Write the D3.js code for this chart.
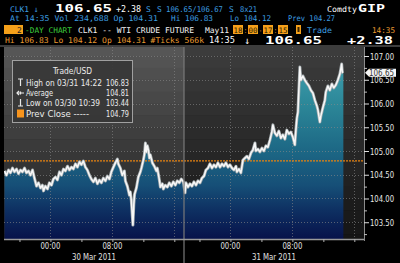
<!DOCTYPE html>
<html>
<head>
<meta charset="utf-8">
<script src="https://cdn.jsdelivr.net/npm/d3@7"></script>
<style>
  html, body { margin: 0; padding: 0; background: #000; }
  svg { display: block; }
  text { font-family: "DejaVu Sans Mono", monospace; }
  .narrow { font-family: "DejaVu Sans Condensed", "Liberation Sans Narrow", "DejaVu Sans", sans-serif; }
</style>
</head>
<body>
<div id="chart"></div>
<script>
// quote header values
const ticker = "CLK1";
const last = 106.65, change = 2.38, bid = 106.65, ask = 106.67, bidAsk = "8x21";
const lastTime = "14:35", volume = "234,688", open = 104.31, hi = 106.83, lo = 104.12, prev = 104.27, tickCount = "566k";
const prevClose = 104.79, average = 104.81;
const highInfo = ["03/31 14:22", 106.83], lowInfo = ["03/30 10:39", 103.44];

// session 18:00 -> 17:15 (1395 min); times are minutes after the 18:00 open
const sessionLen = 1395;
const sessionDates = ["30 Mar 2011", "31 Mar 2011"];
const day1Minutes = [4, 19, 35, 50, 66, 81, 97, 112, 128, 143,
  159, 174, 190, 205, 221, 236, 252, 267, 283, 298,
  306, 321, 337, 352, 368, 383, 399, 414, 430, 445,
  461, 476, 492, 507, 523, 538, 554, 569, 585, 600,
  615, 631, 646, 662, 677, 693, 708, 724, 739, 755,
  770, 786, 801, 817, 832, 848, 863, 879, 886, 902,
  917, 933, 941, 956, 972, 979, 987, 999, 1006, 1012,
  1026, 1041, 1057, 1065, 1080, 1088, 1096, 1103, 1111, 1119,
  1127, 1134, 1150, 1165, 1181, 1188, 1196, 1204, 1212, 1227,
  1235, 1250, 1266, 1281, 1297, 1312, 1328, 1343, 1359, 1374,
  1390];
const day1Prices = [104.58, 104.49, 104.60, 104.54, 104.64, 104.56, 104.62, 104.52, 104.60, 104.56,
  104.64, 104.54, 104.58, 104.49, 104.60, 104.43, 104.26, 104.33, 104.22, 104.28,
  104.16, 104.26, 104.20, 104.33, 104.28, 104.41, 104.45, 104.39, 104.56, 104.49,
  104.62, 104.58, 104.68, 104.60, 104.66, 104.62, 104.73, 104.66, 104.77, 104.71,
  104.79, 104.66, 104.60, 104.49, 104.41, 104.35, 104.43, 104.31, 104.39, 104.33,
  104.43, 104.37, 104.47, 104.41, 104.56, 104.66, 104.75, 104.83, 104.73, 104.64,
  104.49, 104.58, 104.37, 104.26, 104.07, 104.14, 103.95, 103.44, 103.88, 104.09,
  104.22, 104.45, 104.56, 104.64, 104.81, 104.92, 105.17, 104.98, 105.11, 105.02,
  104.85, 104.92, 104.75, 104.68, 104.58, 104.64, 104.52, 104.39, 104.24, 104.31,
  104.20, 104.28, 104.24, 104.33, 104.26, 104.35, 104.28, 104.37, 104.33, 104.41,
  104.35];
const day2Minutes = [0, 8, 15, 31, 46, 62, 77, 93, 108, 124,
  139, 155, 170, 186, 201, 217, 232, 248, 263, 279,
  294, 310, 325, 341, 356, 372, 387, 403, 410, 426,
  441, 457, 472, 488, 503, 519, 534, 550, 557, 573,
  588, 604, 619, 635, 650, 666, 681, 689, 704, 720,
  735, 751, 766, 782, 797, 813, 828, 844, 859, 867,
  875, 883, 890, 898, 906, 921, 937, 952, 968, 983,
  999, 1014, 1030, 1038, 1053, 1061, 1076, 1092, 1099, 1115,
  1130, 1146, 1161, 1177, 1192, 1208, 1222, 1227, 1235];
const day2Prices = [104.26, 104.12, 104.33, 104.24, 104.31, 104.26, 104.35, 104.28, 104.37, 104.33,
  104.43, 104.47, 104.60, 104.64, 104.73, 104.64, 104.71, 104.66, 104.75, 104.66,
  104.73, 104.68, 104.75, 104.66, 104.71, 104.64, 104.60, 104.68, 104.56, 104.62,
  104.54, 104.81, 104.85, 104.89, 104.83, 104.96, 105.02, 105.17, 105.00, 105.04,
  104.98, 105.06, 105.00, 105.11, 105.08, 105.23, 105.40, 105.55, 105.38, 105.32,
  105.42, 105.27, 105.34, 105.25, 105.44, 105.36, 105.40, 105.29, 105.13, 105.44,
  105.69, 105.82, 106.28, 106.77, 106.49, 106.58, 106.49, 106.43, 106.37, 106.28,
  106.22, 106.07, 105.95, 105.86, 105.61, 105.74, 105.91, 106.07, 106.24, 106.37,
  106.28, 106.41, 106.33, 106.39, 106.49, 106.62, 106.83, 106.66, 106.65];

const priceTicks = [103.5, 104.0, 104.5, 105.0, 105.5, 106.0, 106.5, 107.0];
const minorTicks = [103.25, 103.75, 104.25, 104.75, 105.25, 105.75, 106.25, 106.75];
const tickHours = [20, 0, 4, 8, 12, 16];
const gridHours = [0, 8, 16];
const labelHours = ["00:00", "08:00"];

const W = 400, H = 263;
const plot = { left: 4, right: 364, top: 47, bottom: 239 };

const svg = d3.select("#chart").append("svg").attr("width", W).attr("height", H);
svg.append("rect").attr("width", W).attr("height", H).attr("fill", "#000");

const x = d3.scaleLinear().domain([0, 2 * sessionLen]).range([plot.left, plot.right]);
const y = d3.scaleLinear().domain([103.147, 107.19]).range([plot.bottom, plot.top]);
const hourToMin = h => ((h - 18 + 24) % 24) * 60;

const series = day1Minutes.map((m, i) => ({ t: m, v: day1Prices[i] }))
  .concat(day2Minutes.map((m, i) => ({ t: sessionLen + m, v: day2Prices[i] })));

function put(g, px, py, str, color, size, opts = {}) {
  const t = g.append("text").attr("x", px).attr("y", py).text(str)
    .attr("fill", color).attr("font-size", size);
  if (opts.w) t.attr("textLength", opts.w).attr("lengthAdjust", "spacingAndGlyphs");
  if (opts.bold) t.attr("font-weight", "bold");
  if (opts.anchor) t.attr("text-anchor", opts.anchor);
  if (opts.cls) t.attr("class", opts.cls);
  return t;
}

// ---------- header ----------
const hd = svg.append("g");
const blue = "#3d9fe0", orange = "#e89a30";
put(hd, 10, 11.5, ticker + " \u2193", blue, 7.9);
put(hd, 55, 11.5, last.toFixed(2), "#fff", 11, { w: 57, bold: true });
put(hd, 116, 11.5, "+" + change.toFixed(2), "#fff", 9, { w: 25 });
put(hd, 146, 11.5, "S", blue, 7.9);
put(hd, 157, 11.5, "S", blue, 7.9);
put(hd, 166, 11.5, bid.toFixed(2) + "/" + ask.toFixed(2), blue, 7.9, { w: 57 });
put(hd, 229, 11.5, "S", blue, 7.9);
put(hd, 240, 11.5, bidAsk, blue, 7.9, { w: 17 });
put(hd, 327, 11.5, "Comdty", "#fff", 7.9, { w: 30 });
put(hd, 358, 12, "GIP", "#fff", 11, { w: 27, bold: true });

put(hd, 10, 21, `At ${lastTime} Vol ${volume} Op ${open.toFixed(2)}`, blue, 7.9, { w: 148 });
put(hd, 171, 21, `Hi ${hi.toFixed(2)}`, blue, 7.9, { w: 42 });
put(hd, 230, 21, `Lo ${lo.toFixed(2)}`, blue, 7.9, { w: 41 });
put(hd, 288, 21, `Prev ${prev.toFixed(2)}`, blue, 7.9, { w: 47 });

hd.append("rect").attr("x", 4).attr("y", 25).attr("width", 19).attr("height", 9).attr("fill", "#f5a01a");
put(hd, 17, 32.5, "2", "#222", 7.9);
put(hd, 25, 32.5, "-DAY CHART", "#3cc83c", 7.9, { w: 47 });
put(hd, 78, 32.5, ticker + " -- WTI CRUDE FUTURE", "#f2f2f2", 7.9, { w: 116 });
put(hd, 205, 32.5, "May11", "#f2f2f2", 7.9, { w: 24 });
[["18", 233], ["00", 248], ["17", 263], ["15", 278]].forEach(([s, bx]) => {
  hd.append("rect").attr("x", bx).attr("y", 25).attr("width", 10).attr("height", 9).attr("fill", "#f5a01a");
  put(hd, bx + 0.5, 32.5, s, "#2a1a00", 7.5, { w: 9 });
});
[[":", 245.5], ["-", 260.5], [":", 275.5]].forEach(([s, sx]) =>
  put(hd, sx, 32.5, s, orange, 7.5, { w: 3, anchor: "middle" }));
hd.append("rect").attr("x", 296).attr("y", 25).attr("width", 5).attr("height", 9).attr("fill", "#f5a01a");
hd.append("rect").attr("x", 297.5).attr("y", 27).attr("width", 2).attr("height", 5).attr("fill", "#3a2400");
put(hd, 307, 32.5, "Trade", blue, 7.9, { w: 25 });
put(hd, 372, 32.5, lastTime, orange, 7.9, { w: 23 });

put(hd, 5, 43, `Hi ${hi.toFixed(2)} Lo ${lo.toFixed(2)} Op ${open.toFixed(2)} #Ticks ${tickCount}`, orange, 7.9, { w: 199 });
put(hd, 209, 43, lastTime, "#fff", 8.5, { w: 26 });
put(hd, 244, 43.5, "\u2193", "#fff", 10);
put(hd, 265, 44, last.toFixed(2), "#fff", 11, { w: 57, bold: true });
put(hd, 347, 44, "+" + change.toFixed(2), "#fff", 11, { w: 46, bold: true });

svg.append("rect").attr("x", 0).attr("y", 45).attr("width", W).attr("height", 2).attr("fill", "#3c3c3c");

// ---------- plot background ----------
svg.append("clipPath").attr("id", "clip").append("rect")
  .attr("x", plot.left).attr("y", plot.top)
  .attr("width", plot.right - plot.left).attr("height", plot.bottom - plot.top);
const pg = svg.append("g").attr("clip-path", "url(#clip)");

const bandTops = d3.range(107.25, 103.0, -0.25);
[["#565656", "#1e1e1e"], ["#3c3c3c", "#151515"]].forEach(([c0, c1], s) => {
  const col = d3.interpolateRgb(c0, c1);
  pg.selectAll(null).data(bandTops).join("rect")
    .attr("x", x(s * sessionLen)).attr("width", x(sessionLen) - x(0))
    .attr("y", d => y(d)).attr("height", d => y(d - 0.25) - y(d) + 0.5)
    .attr("fill", (d, i) => col(i / (bandTops.length - 1)));
});

// area gradient
const grad = svg.append("defs").append("linearGradient").attr("id", "fillGrad")
  .attr("gradientUnits", "userSpaceOnUse")
  .attr("x1", 0).attr("x2", 0).attr("y1", plot.top).attr("y2", plot.bottom);
[[0, "#46a8b6"], [0.3, "#2c8798"], [0.55, "#1c6684"], [0.72, "#164f77"], [0.85, "#0e3062"], [1, "#07124a"]]
  .forEach(([o, c]) => grad.append("stop").attr("offset", o).attr("stop-color", c));

pg.append("path").datum(series)
  .attr("fill", "url(#fillGrad)")
  .attr("d", d3.area().x(d => x(d.t)).y0(plot.bottom).y1(d => y(d.v)));

// grid
pg.selectAll(null).data(priceTicks).join("line")
  .attr("x1", plot.left).attr("x2", plot.right)
  .attr("y1", d => Math.round(y(d)) + 0.5).attr("y2", d => Math.round(y(d)) + 0.5)
  .attr("stroke", "#8a8a8a").attr("stroke-opacity", 0.6).attr("stroke-dasharray", "1,2");
const gridMins = [0, 1].flatMap(s => gridHours.map(h => s * sessionLen + hourToMin(h)));
pg.selectAll(null).data(gridMins).join("line")
  .attr("x1", d => Math.round(x(d)) + 0.5).attr("x2", d => Math.round(x(d)) + 0.5)
  .attr("y1", plot.top).attr("y2", plot.bottom)
  .attr("stroke", "#8a8a8a").attr("stroke-opacity", 0.6).attr("stroke-dasharray", "1,2");

// session divider
svg.append("line").attr("x1", x(sessionLen)).attr("x2", x(sessionLen))
  .attr("y1", plot.top).attr("y2", H)
  .attr("stroke", "#7a7a7a").attr("stroke-width", 1.2);

// prev close
pg.append("line").attr("x1", plot.left).attr("x2", plot.right)
  .attr("y1", y(prevClose)).attr("y2", y(prevClose))
  .attr("stroke", "#e8820f").attr("stroke-width", 1.2).attr("stroke-dasharray", "2,1");

// price line
const line = d3.line().x(d => x(d.t)).y(d => y(d.v));
pg.append("path").datum(series).attr("fill", "none")
  .attr("stroke", "#a3abae").attr("stroke-width", 3).attr("stroke-linejoin", "round").attr("d", line);
pg.append("path").datum(series).attr("fill", "none")
  .attr("stroke", "#f8f8f8").attr("stroke-width", 1.5).attr("stroke-linejoin", "round").attr("d", line);

// ---------- axes ----------
const yAxis = svg.append("g").attr("transform", `translate(${plot.right},0)`)
  .call(d3.axisRight(y).tickValues(priceTicks).tickSize(5).tickPadding(1).tickFormat(d3.format(".2f")));
yAxis.select(".domain").attr("stroke", "#8c8c8c").attr("d", `M0.5,${plot.top}V${plot.bottom + 2}`);
yAxis.selectAll(".tick line").attr("stroke", "#e0e0e0");
yAxis.selectAll(".tick text").attr("class", "narrow").attr("fill", "#e6e6e6")
  .attr("font-size", 9.5).attr("textLength", 24).attr("lengthAdjust", "spacingAndGlyphs");
const yMinor = svg.append("g").attr("transform", `translate(${plot.right},0)`)
  .call(d3.axisRight(y).tickValues(minorTicks).tickSize(3).tickFormat(""));
yMinor.select(".domain").remove();
yMinor.selectAll(".tick line").attr("stroke", "#bdbdbd");

const tickMins = [0, 1].flatMap(s => tickHours.map(h => s * sessionLen + hourToMin(h)));
const xAxis = svg.append("g").attr("transform", `translate(0,${plot.bottom})`)
  .call(d3.axisBottom(x).tickValues(tickMins).tickSize(3).tickFormat(""));
xAxis.select(".domain").attr("stroke", "#9a9a9a").attr("stroke-width", 1.5)
  .attr("d", `M${plot.left},0.5H${plot.right}`);
xAxis.selectAll(".tick line").attr("stroke", "#b0b0b0");

const xl = svg.append("g");
[0, 1].forEach(s => {
  labelHours.forEach(lbl => {
    const m = s * sessionLen + hourToMin(+lbl.slice(0, 2));
    put(xl, x(m), 248.5, lbl, "#e0e0e0", 9, { w: 20, anchor: "middle", cls: "narrow" });
  });
  put(xl, x(s * sessionLen + sessionLen / 2), 260, sessionDates[s], "#e0e0e0", 9, { w: 44, anchor: "middle", cls: "narrow" });
});

// last price flag
const ly = y(last);
svg.append("path")
  .attr("d", `M${plot.right + 1},${ly} L${plot.right + 5},${ly - 4} H396 V${ly + 4} H${plot.right + 5} Z`)
  .attr("fill", "#f4f4f4");
put(svg, 369, ly + 3, last.toFixed(2), "#333", 8.5, { w: 25, cls: "narrow" });

// ---------- legend ----------
const lg = svg.append("g");
lg.append("rect").attr("x", 12.5).attr("y", 60.5).attr("width", 120).attr("height", 62)
  .attr("fill", "#363636").attr("fill-opacity", 0.9).attr("stroke", "#a0a0a0");
put(lg, 72.5, 74, "Trade/USD", "#ececec", 9, { w: 39, anchor: "middle", cls: "narrow" });
const rows = [
  ["High on " + highInfo[0], highInfo[1], 86, 76],
  ["Average", average, 96, 27],
  ["Low on " + lowInfo[0], lowInfo[1], 106, 74],
  ["Prev Close -----", prevClose, 117, 63]
];
rows.forEach(([lbl, v, by, w]) => {
  put(lg, 26, by, lbl, "#ececec", 8.2, { w: w, cls: "narrow" });
  put(lg, 129, by, v.toFixed(2), "#ececec", 8.6, { w: 23, anchor: "end", cls: "narrow" });
});
const ic = lg.append("g").attr("stroke", "#e8e8e8").attr("stroke-width", 1.2);
ic.append("path").attr("d", "M18,79H23M20.5,79V86");
ic.append("path").attr("d", "M17,93H24M19,91L17,93L19,95M20.5,91.5V94.5");
ic.append("path").attr("d", "M18,106H23M20.5,99V106");
lg.append("rect").attr("x", 17).attr("y", 109.5).attr("width", 7).attr("height", 8).attr("fill", "#f7941d");
</script>
</body>
</html>
